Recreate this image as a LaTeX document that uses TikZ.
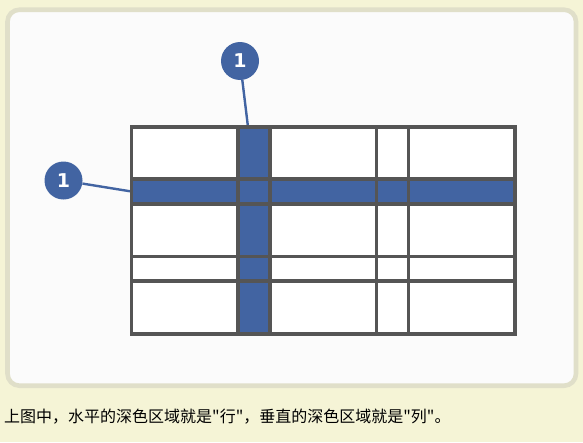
\documentclass[tikz,border=0pt]{standalone}
\usepackage{fontspec}
\newfontfamily\cjk{Noto Sans CJK SC}
\newfontfamily\numfont{DejaVu Sans}
\definecolor{bgyellow}{HTML}{F5F4D6}
\definecolor{framegray}{HTML}{E0DFC9}
\definecolor{panel}{HTML}{FBFBFB}
\definecolor{hiblue}{HTML}{4264A2}
\definecolor{gridgray}{HTML}{555555}
\tikzset{
  badge/.style={circle, fill=hiblue, minimum size=38pt, inner sep=0pt, text=white, font=\numfont\bfseries\fontsize{19}{19}\selectfont},
  leader/.style={draw=hiblue, line width=2.4pt},
  gridline/.style={draw=gridgray, line width=3.6pt},
  bluefill/.style={fill=hiblue},
}
\begin{document}
\begin{tikzpicture}[x=1pt,y=-1pt]
\fill[bgyellow] (0,0) rectangle (583,442);
\useasboundingbox (0,0) rectangle (583,442);
\draw[framegray, line width=4.6pt, fill=panel, rounded corners=12pt] (7.5,9.7) rectangle (576,385.7);
% badges and leaders
\node[badge] (colbadge) at (240,61) {1};
\node[badge] (rowbadge) at (63.5,180.5) {1};
\coordinate (colend) at (248,127);
\coordinate (rowend) at (131.5,191.5);
\draw[leader] (colbadge) -- (colend);
\draw[leader] (rowbadge) -- (rowend);
% grid
\fill[white] (131.5,126.7) rectangle (514.7,334);
\fill[bluefill] (237.7,126.7) rectangle (269.7,334);
\fill[bluefill] (131.5,179) rectangle (514.7,203.7);
\foreach \x in {237.7,269.7,376.3,408.3}
  \draw[gridline] (\x,126.7) -- (\x,334);
\foreach \y in {179,203.7,256.3,281}
  \draw[gridline] (131.5,\y) -- (514.7,\y);
\draw[gridline] (131.5,126.7) rectangle (514.7,334);
% caption
\node[anchor=west, inner sep=0pt, font=\cjk\fontsize{16}{16}\selectfont, text=black] (caption) at (4,417) {上图中，水平的深色区域就是"行"，垂直的深色区域就是"列"。};
\end{tikzpicture}
\end{document}
